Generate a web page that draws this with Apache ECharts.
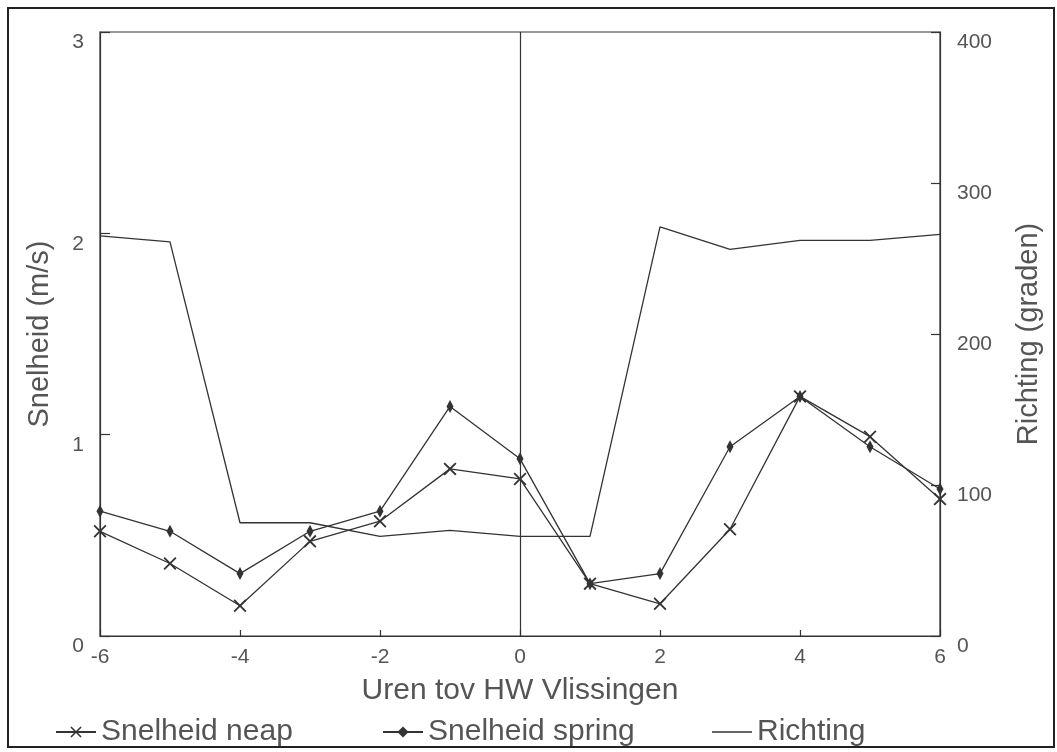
<!DOCTYPE html>
<html>
<head>
<meta charset="utf-8">
<script src="https://cdn.jsdelivr.net/npm/echarts@6/dist/echarts.min.js"></script>
<style>
  html, body { margin: 0; padding: 0; background: #fff; }
  #chart { width: 1057px; height: 752px; }
</style>
</head>
<body>
<div id="chart"></div>
<script>
// Hours relative to high water at Vlissingen
const hours = [-6, -5, -4, -3, -2, -1, 0, 1, 2, 3, 4, 5, 6];
// Current speed (m/s) at neap tide
const speedNeap = [0.52, 0.36, 0.15, 0.47, 0.57, 0.83, 0.78, 0.26, 0.16, 0.53, 1.19, 0.99, 0.68];
// Current speed (m/s) at spring tide
const speedSpring = [0.62, 0.52, 0.31, 0.52, 0.62, 1.14, 0.88, 0.26, 0.31, 0.94, 1.19, 0.94, 0.73];
// Current direction (degrees)
const direction = [265, 261, 75, 75, 66, 70, 66, 66, 271, 256, 262, 262, 266];

const names = {
  neap: 'Snelheid neap',
  spring: 'Snelheid spring',
  dir: 'Richting'
};

const ink = '#333';
const textInk = '#555';
const font = 'Liberation Sans';

const pairs = vals => hours.map((h, i) => [h, vals[i]]);

// Cross marker as a filled outline so it renders without relying on strokes
const crossPath = 'path://M0,1 L1,0 L5,4 L9,0 L10,1 L6,5 L10,9 L9,10 L5,6 L1,10 L0,9 L4,5 Z';

const chart = echarts.init(document.getElementById('chart'), null, { renderer: 'canvas' });

const legendBase = {
  top: 712,
  orient: 'horizontal',
  itemWidth: 40,
  itemHeight: 14,
  textStyle: { fontFamily: font, fontSize: 30, color: textInk },
  inactiveColor: '#ccc'
};

chart.setOption({
  animation: false,
  backgroundColor: '#fff',
  textStyle: { fontFamily: font },
  graphic: [{
    type: 'rect',
    shape: { x: 8, y: 8, width: 1046, height: 739 },
    style: { fill: 'none', stroke: '#222', lineWidth: 2 },
    silent: true,
    z: 100
  }],
  grid: {
    left: 100, right: 117, top: 32, bottom: 116,
    show: true,
    borderColor: ink,
    borderWidth: 1.2,
    backgroundColor: 'transparent'
  },
  legend: [
    Object.assign({}, legendBase, { left: 50, data: [names.neap] }),
    Object.assign({}, legendBase, { left: 377, data: [names.spring] }),
    Object.assign({}, legendBase, { left: 707, data: [{ name: names.dir, icon: 'path://M0,16 L40,16 L40,17.3 L0,17.3 Z' }] })
  ],
  xAxis: {
    type: 'value',
    min: -6, max: 6, interval: 2,
    name: 'Uren tov HW Vlissingen',
    nameLocation: 'middle',
    nameGap: 40,
    nameTextStyle: { fontFamily: font, fontSize: 30, color: textInk },
    axisLine: { show: true, onZero: false, lineStyle: { color: ink, width: 1.2 } },
    axisTick: { show: true, inside: true, length: 6, lineStyle: { color: ink, width: 1.2 } },
    axisLabel: { fontFamily: font, fontSize: 21, color: textInk, margin: 11 },
    splitLine: { show: false }
  },
  yAxis: [{
    type: 'value',
    min: 0, max: 3, interval: 1,
    position: 'left',
    name: 'Snelheid (m/s)',
    nameLocation: 'middle',
    nameGap: 46,
    nameTextStyle: { fontFamily: font, fontSize: 29, color: textInk },
    axisLine: { show: true, onZero: false, lineStyle: { color: ink, width: 1.2 } },
    axisTick: { show: true, inside: true, length: 10, lineStyle: { color: ink, width: 1.2 } },
    axisLabel: { fontFamily: font, fontSize: 21, color: textInk, margin: 16, verticalAlign: 'top' },
    splitLine: { show: false }
  }, {
    type: 'value',
    min: 0, max: 400, interval: 100,
    position: 'right',
    name: 'Richting (graden)',
    nameLocation: 'middle',
    nameGap: 74,
    nameTextStyle: { fontFamily: font, fontSize: 29, color: textInk },
    axisLine: { show: true, onZero: false, lineStyle: { color: ink, width: 1.2 } },
    axisTick: { show: true, inside: true, length: 9, lineStyle: { color: ink, width: 1.2 } },
    axisLabel: { fontFamily: font, fontSize: 21, color: textInk, margin: 17, verticalAlign: 'top' },
    splitLine: { show: false }
  }],
  series: [{
    name: names.neap,
    type: 'line',
    yAxisIndex: 0,
    data: pairs(speedNeap),
    symbol: crossPath,
    symbolSize: 13,
    lineStyle: { color: ink, width: 1.3 },
    itemStyle: { color: ink },
    z: 3,
    markLine: {
      silent: true,
      symbol: 'none',
      label: { show: false },
      lineStyle: { color: ink, width: 1.2, type: 'solid' },
      data: [{ xAxis: 0 }]
    }
  }, {
    name: names.spring,
    type: 'line',
    yAxisIndex: 0,
    data: pairs(speedSpring),
    symbol: 'diamond',
    symbolSize: [7, 13],
    lineStyle: { color: ink, width: 1.3 },
    itemStyle: { color: ink },
    z: 3
  }, {
    name: names.dir,
    type: 'line',
    yAxisIndex: 1,
    data: pairs(direction),
    symbol: 'none',
    lineStyle: { color: ink, width: 1.3 },
    itemStyle: { color: ink },
    z: 2
  }]
});
</script>
</body>
</html>
